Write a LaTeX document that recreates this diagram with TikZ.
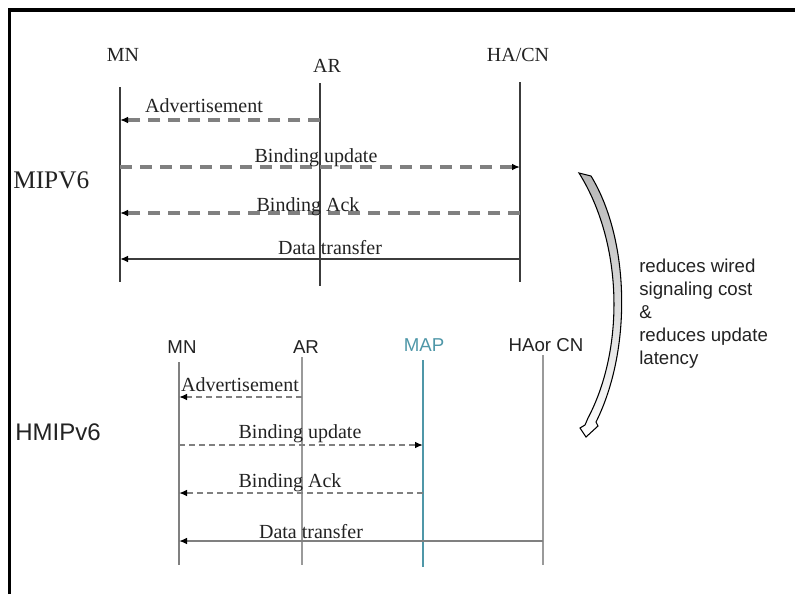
\documentclass[tikz,border=0pt]{standalone}
\usepackage{fontspec}
\setmainfont{Liberation Serif}
\setsansfont{Liberation Sans}
\usetikzlibrary{arrows.meta}
\definecolor{lifedark}{HTML}{3C3C3C}
\definecolor{lifegray}{HTML}{9A9A9A}
\definecolor{msggray}{HTML}{808080}
\definecolor{mapteal}{HTML}{4F97A8}
\definecolor{txtdark}{HTML}{222222}
\begin{document}
\begin{tikzpicture}[x=0.75pt,y=-0.75pt,
  serlab/.style={inner sep=0pt,anchor=base,font=\fontsize{15}{18}\selectfont,text=txtdark},
  sanslab/.style={inner sep=0pt,anchor=base,font=\sffamily\fontsize{14}{17}\selectfont,text=txtdark},
  lifeA/.style={draw=lifedark,line width=1.5pt},
  lifeB/.style={draw=lifegray,line width=1.5pt},
  msgA/.style={draw=msggray,line width=2.8pt,dash pattern=on 9pt off 6pt,
    -{Latex[length=6pt,width=5pt,black]}},
  msgAsolid/.style={draw=lifedark,line width=1.4pt,-{Latex[length=6pt,width=5pt,black]}},
  msgB/.style={draw=msggray,line width=1.2pt,dash pattern=on 4.5pt off 3pt,
    -{Latex[length=6pt,width=5pt,black]}},
  msgBsolid/.style={draw=msggray,line width=1.6pt,-{Latex[length=6pt,width=5pt,black]}}]
\useasboundingbox (0,0) rectangle (795,594);

% frame
\draw[line width=2.3pt,black] (9.5,594) -- (9.5,10) -- (795,10);

% ---------- MIPv6 ----------
\node[font=\fontsize{19}{22}\selectfont,inner sep=0pt,anchor=base west,text=txtdark] (mip) at (13,188) {MIPV6};

\node[serlab] (mnA) at (123,61) {MN};
\node[serlab] (arA) at (327,72) {AR};
\node[serlab] (haA) at (518,61) {HA/CN};

\coordinate (mnAt) at (120,87);  \coordinate (mnAb) at (120,282);
\coordinate (arAt) at (320,83);  \coordinate (arAb) at (320,286);
\coordinate (haAt) at (520,82);  \coordinate (haAb) at (520,282);
\draw[lifeA] (mnAt) -- (mnAb);
\draw[lifeA] (arAt) -- (arAb);
\draw[lifeA] (haAt) -- (haAb);

\coordinate (advAs) at (320,120); \coordinate (advAe) at (120,120);
\coordinate (buAs) at (120,167);  \coordinate (buAe) at (520,167);
\coordinate (baAs) at (520,213);  \coordinate (baAe) at (120,213);
\coordinate (dtAs) at (520,259);  \coordinate (dtAe) at (120,259);
\draw[msgA] (advAs) -- (advAe);
\draw[msgA] (buAs) -- (buAe);
\draw[msgA] (baAs) -- (baAe);
\draw[msgAsolid] (dtAs) -- (dtAe);

\node[serlab] (advAl) at (204,112) {Advertisement};
\node[serlab] (buAl) at (316,162) {Binding update};
\node[serlab] (baAl) at (308,211) {Binding Ack};
\node[serlab] (dtAl) at (330,254) {Data transfer};

% ---------- HMIPv6 ----------
\node[font=\sffamily\fontsize{18}{21}\selectfont,inner sep=0pt,anchor=base west,text=txtdark] (hmip) at (15,440) {HMIPv6};

\node[sanslab] (mnB) at (182,353) {MN};
\node[sanslab] (arB) at (306,353) {AR};
\node[sanslab,text=mapteal] (mapB) at (424,351) {MAP};
\node[sanslab] (haB) at (546,351) {HAor CN};

\coordinate (mnBt) at (179,362); \coordinate (mnBb) at (179,565);
\coordinate (arBt) at (302,357); \coordinate (arBb) at (302,565);
\coordinate (mapBt) at (423,360); \coordinate (mapBb) at (423,567);
\coordinate (haBt) at (543,355); \coordinate (haBb) at (543,565);
\draw[lifeB,draw=msggray] (mnBt) -- (mnBb);
\draw[lifeB] (arBt) -- (arBb);
\draw[lifeB,draw=mapteal] (mapBt) -- (mapBb);
\draw[lifeB] (haBt) -- (haBb);

\coordinate (advBs) at (302,397); \coordinate (advBe) at (179,397);
\coordinate (buBs) at (179,445);  \coordinate (buBe) at (423,445);
\coordinate (baBs) at (423,493);  \coordinate (baBe) at (179,493);
\coordinate (dtBs) at (543,541);  \coordinate (dtBe) at (179,541);
\draw[msgB] (advBs) -- (advBe);
\draw[msgB] (buBs) -- (buBe);
\draw[msgB] (baBs) -- (baBe);
\draw[msgBsolid] (dtBs) -- (dtBe);

\node[serlab] (advBl) at (240,391) {Advertisement};
\node[serlab] (buBl) at (300,438) {Binding update};
\node[serlab] (baBl) at (290,487) {Binding Ack};
\node[serlab] (dtBl) at (311,538) {Data transfer};

% ---------- curved block arrow and its note ----------
\path[draw=black,line width=0.8pt,top color=black!28,bottom color=white,shading angle=0]
  (579,173) -- (591,176)
  .. controls (630,240) and (632,350) .. (596,422)
  -- (598,426) -- (586,437) -- (580,428) -- (585,425)
  -- (588,418)
  .. controls (624,350) and (624,245) .. (579,173) -- cycle;

\node[inner sep=0pt,anchor=base west,align=left,text=txtdark,
  font=\sffamily\fontsize{14}{17.25}\selectfont] (note) at (639,364)
  {reduces wired\\signaling cost\\\&\\reduces update\\latency};
\end{tikzpicture}
\end{document}
